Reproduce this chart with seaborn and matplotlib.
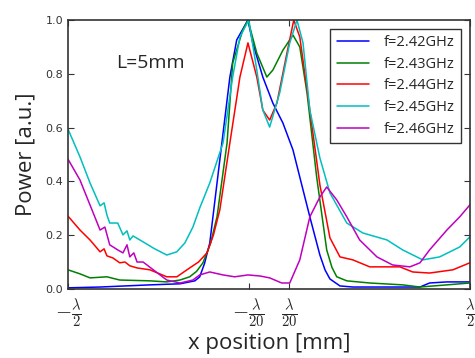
import numpy as np
import pandas as pd
import matplotlib
matplotlib.use("Agg")
import matplotlib.pyplot as plt
import seaborn as sns

# x position in units of wavelength, power normalised
labels = ['f=2.42GHz', 'f=2.43GHz', 'f=2.44GHz', 'f=2.45GHz', 'f=2.46GHz']
colors = ['#0000ff', '#008000', '#ff0000', '#00bfbf', '#bf00bf']

x_242 = [-0.500, -0.420, -0.296, -0.221, -0.184, -0.172, -0.160, -0.147, -0.122, -0.097, -0.080,
         -0.052, -0.040, -0.015, 0.010, 0.035, 0.060, 0.077, 0.102, 0.127, 0.140, 0.152, 0.177,
         0.209, 0.376, 0.400, 0.443, 0.500]
y_242 = [0.004, 0.007, 0.015, 0.019, 0.030, 0.045, 0.095, 0.171, 0.480, 0.788, 0.926,
         1.000, 0.915, 0.788, 0.691, 0.617, 0.517, 0.416, 0.268, 0.126, 0.070, 0.037, 0.011,
         0.007, 0.007, 0.022, 0.026, 0.026]

x_243 = [-0.500, -0.470, -0.445, -0.403, -0.371, -0.296, -0.254, -0.221, -0.197, -0.180, -0.164,
         -0.145, -0.129, -0.104, -0.090, -0.065, -0.052, -0.030, -0.005, 0.010, 0.035, 0.060,
         0.077, 0.095, 0.119, 0.144, 0.157, 0.169, 0.194, 0.251, 0.333, 0.376, 0.443, 0.500]
y_243 = [0.071, 0.056, 0.041, 0.045, 0.033, 0.030, 0.026, 0.033, 0.045, 0.065, 0.097,
         0.170, 0.268, 0.543, 0.840, 0.963, 1.000, 0.877, 0.788, 0.814, 0.888, 0.944,
         0.900, 0.729, 0.416, 0.145, 0.080, 0.045, 0.030, 0.022, 0.015, 0.007, 0.015, 0.022]

x_244 = [-0.500, -0.470, -0.445, -0.420, -0.410, -0.403, -0.388, -0.371, -0.358, -0.346, -0.328,
         -0.296, -0.254, -0.229, -0.197, -0.175, -0.154, -0.138, -0.122, -0.097, -0.072, -0.052,
         -0.030, -0.015, 0.002, 0.020, 0.045, 0.062, 0.077, 0.102, 0.127, 0.152, 0.177, 0.209,
         0.251, 0.294, 0.326, 0.358, 0.400, 0.458, 0.500]
y_244 = [0.271, 0.219, 0.182, 0.138, 0.149, 0.123, 0.115, 0.097, 0.100, 0.086, 0.078,
         0.071, 0.045, 0.045, 0.078, 0.100, 0.134, 0.200, 0.294, 0.543, 0.788, 0.915,
         0.788, 0.665, 0.628, 0.691, 0.877, 1.000, 0.937, 0.665, 0.387, 0.190, 0.119, 0.108,
         0.082, 0.082, 0.082, 0.063, 0.059, 0.071, 0.097]

x_245 = [-0.500, -0.470, -0.445, -0.420, -0.410, -0.403, -0.396, -0.376, -0.363, -0.353, -0.346,
         -0.338, -0.313, -0.284, -0.254, -0.229, -0.209, -0.189, -0.172, -0.147, -0.114, -0.090,
         -0.072, -0.050, -0.030, -0.015, 0.002, 0.027, 0.052, 0.070, 0.085, 0.102, 0.127,
         0.152, 0.194, 0.234, 0.294, 0.333, 0.383, 0.425, 0.475, 0.500]
y_245 = [0.595, 0.491, 0.394, 0.309, 0.320, 0.275, 0.245, 0.245, 0.201, 0.216, 0.182,
         0.197, 0.175, 0.149, 0.126, 0.138, 0.171, 0.230, 0.301, 0.394, 0.543, 0.788,
         0.937, 1.000, 0.814, 0.665, 0.602, 0.729, 0.915, 1.000, 0.915, 0.665, 0.487,
         0.357, 0.245, 0.208, 0.182, 0.145, 0.108, 0.119, 0.156, 0.193]

x_246 = [-0.500, -0.470, -0.445, -0.420, -0.408, -0.396, -0.376, -0.363, -0.353, -0.346, -0.336,
         -0.328, -0.313, -0.284, -0.254, -0.221, -0.189, -0.172, -0.147, -0.114, -0.085, -0.052,
         -0.022, 0.002, 0.032, 0.052, 0.077, 0.102, 0.127, 0.144, 0.169, 0.194, 0.226, 0.269,
         0.308, 0.351, 0.376, 0.400, 0.443, 0.475, 0.500]
y_246 = [0.483, 0.405, 0.312, 0.219, 0.230, 0.164, 0.145, 0.134, 0.164, 0.119, 0.134,
         0.100, 0.100, 0.067, 0.033, 0.022, 0.033, 0.052, 0.063, 0.052, 0.045, 0.052,
         0.048, 0.041, 0.022, 0.022, 0.108, 0.268, 0.342, 0.379, 0.331, 0.268, 0.182, 0.119,
         0.089, 0.082, 0.097, 0.145, 0.219, 0.268, 0.312]

xs = [x_242, x_243, x_244, x_245, x_246]
ys = [y_242, y_243, y_244, y_245, y_246]

frames = []
for lab, x, y in zip(labels, xs, ys):
    frames.append(pd.DataFrame({'x': x, 'power': y, 'freq': lab}))
df = pd.concat(frames, ignore_index=True)

sns.set_style("white")
plt.rcParams['mathtext.fontset'] = 'cm'
plt.rcParams['font.family'] = ['Open Sans', 'DejaVu Sans']

fig = plt.figure(figsize=(4.75, 3.58), dpi=100)
ax = fig.add_axes([0.143, 0.193, 0.846, 0.751])

sns.lineplot(data=df, x='x', y='power', hue='freq', palette=colors, hue_order=labels,
             estimator=None, sort=False, linewidth=1.1, ax=ax)

ax.set_xlim(-0.5, 0.5)
ax.set_ylim(0, 1.0)
ax.set_xticks([-0.5, -0.05, 0.05, 0.5])
ax.set_xticklabels([r'$-\frac{\lambda}{2}$', r'$-\frac{\lambda}{20}$',
                    r'$\frac{\lambda}{20}$', r'$\frac{\lambda}{2}$'], fontsize=15)
ax.set_yticks([0.0, 0.2, 0.4, 0.6, 0.8, 1.0])
ax.set_yticklabels(['0.0', '0.2', '0.4', '0.6', '0.8', '1.0'], fontsize=8,
                   family='DejaVu Sans', color='#333333')
ax.tick_params(direction='in', length=4, width=0.8, top=True, right=True,
               bottom=True, left=True, color='#333333')
ax.tick_params(axis='x', pad=6)
for s in ax.spines.values():
    s.set_color('#333333')
    s.set_linewidth(1.2)

ax.set_xlabel('x position [mm]', fontsize=16, labelpad=2)
ax.set_ylabel('Power [a.u.]', fontsize=16, labelpad=6)
ax.text(-0.38, 0.82, 'L=5mm', fontsize=14)

leg = ax.legend(loc='upper right', fontsize=10.5, frameon=True, fancybox=False,
                borderaxespad=0.6, handlelength=2.2, handletextpad=1.0, labelspacing=0.45,
                borderpad=0.45)
leg.get_frame().set_edgecolor('black')
leg.get_frame().set_linewidth(1.0)
leg.set_title(None)

fig.savefig('out.png', dpi=100)
